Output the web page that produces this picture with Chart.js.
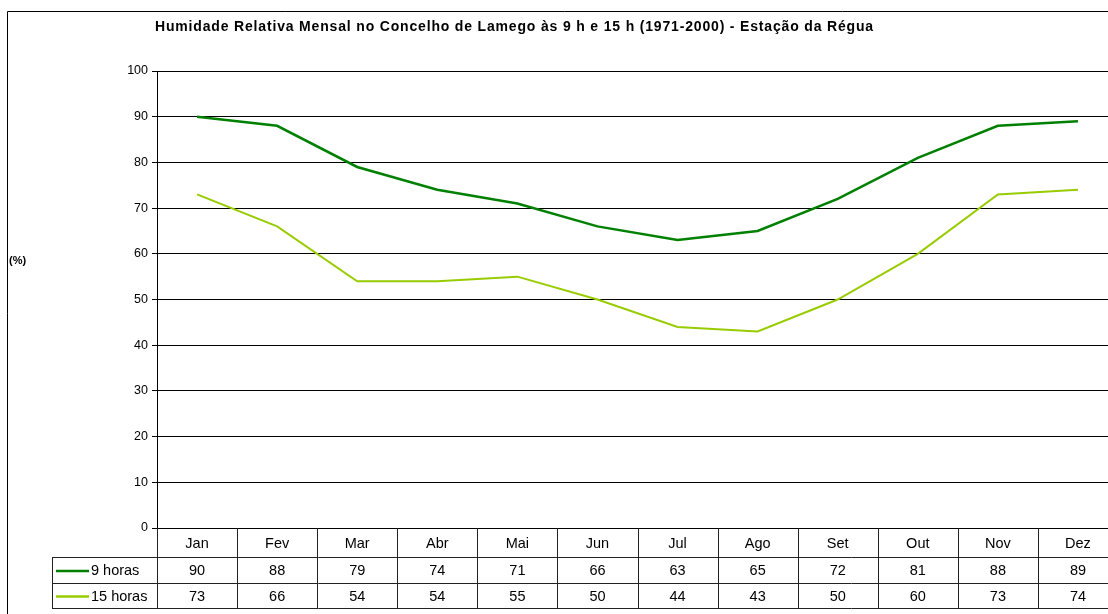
<!DOCTYPE html>
<html><head><meta charset="utf-8">
<script src="https://cdn.jsdelivr.net/npm/chart.js@4.4.0/dist/chart.umd.min.js"></script>
<style>
html,body{margin:0;padding:0;overflow:hidden;background:#fff;}
#wrap{position:relative;width:1120px;height:614px;}
</style></head>
<body><div id="wrap"><canvas id="c" width="1120" height="614"></canvas></div>
<script>
const months = ["Jan","Fev","Mar","Abr","Mai","Jun","Jul","Ago","Set","Out","Nov","Dez"];
const seriesNames = ["9 horas","15 horas"];
const hum9 = [90,88,79,74,71,66,63,65,72,81,88,89];
const hum15 = [73,66,54,54,55,50,44,43,50,60,73,74];
const yTicks = [0,10,20,30,40,50,60,70,80,90,100];
const titleText = "Humidade Relativa Mensal no Concelho de Lamego às 9 h e 15 h (1971-2000) - Estação da Régua";
const yTitle = "(%)";
const colors = ["#008000","#99CC00"];
const allSeries = [hum9, hum15];

const FONT = "'Liberation Sans', Arial, sans-serif";

const tablePlugin = {
  id: 'tablePlugin',
  beforeDraw(chart){
    const ctx = chart.ctx;
    ctx.save();
    ctx.fillStyle = '#fff';
    ctx.fillRect(0,0,chart.width,chart.height);
    ctx.strokeStyle = '#000';
    ctx.lineWidth = 1;
    ctx.beginPath();
    ctx.moveTo(7.5, chart.height+2);
    ctx.lineTo(7.5, 11.5);
    ctx.lineTo(chart.width+2, 11.5);
    ctx.stroke();
    ctx.fillStyle = '#000';
    ctx.font = "bold 14px " + FONT;
    ctx.textAlign = 'left';
    ctx.textBaseline = 'middle';
    ctx.letterSpacing = '0px';
    const w0 = ctx.measureText(titleText).width;
    const targetW = 718;
    const sp = (targetW - w0) / (titleText.length - 1);
    ctx.letterSpacing = sp.toFixed(2) + 'px';
    ctx.fillText(titleText, 514 - targetW / 2, 27);
    ctx.letterSpacing = '0px';
    ctx.font = "bold 11px " + FONT;
    ctx.textAlign = 'left';
    ctx.fillText(yTitle, 9, 261);
    ctx.restore();
  },
  afterDraw(chart){
    const ctx = chart.ctx;
    const xs = chart.scales.x;
    const area = chart.chartArea;
    const top = Math.round(area.bottom);
    const r1 = 557, r2 = 583, r3 = 608;
    const leftT = 52;
    const n = months.length;
    const half = (xs.getPixelForValue(1) - xs.getPixelForValue(0)) / 2;
    ctx.save();
    ctx.strokeStyle = '#222';
    ctx.lineWidth = 1;
    ctx.beginPath();
    for (let i = 0; i <= n; i++) {
      const x = Math.round(xs.getPixelForValue(i) - half) + 0.5;
      ctx.moveTo(x, top); ctx.lineTo(x, r3);
    }
    ctx.moveTo(leftT + 0.5, r1); ctx.lineTo(leftT + 0.5, r3);
    const right = Math.round(xs.getPixelForValue(n-1) + half);
    [r1, r2, r3].forEach(y => { ctx.moveTo(leftT, y + 0.5); ctx.lineTo(right, y + 0.5); });
    ctx.stroke();
    ctx.fillStyle = '#000';
    ctx.font = "14.5px " + FONT;
    ctx.textAlign = 'center';
    ctx.textBaseline = 'middle';
    months.forEach((m, i) => ctx.fillText(m, xs.getPixelForValue(i), (top + r1) / 2 + 1));
    const rows = [[r1, r2], [r2, r3]];
    allSeries.forEach((vals, s) => {
      const cy = (rows[s][0] + rows[s][1]) / 2 + 1;
      vals.forEach((v, i) => ctx.fillText(String(v), xs.getPixelForValue(i), cy));
      ctx.strokeStyle = colors[s];
      ctx.lineWidth = 2.5;
      ctx.beginPath();
      ctx.moveTo(56, cy); ctx.lineTo(89, cy);
      ctx.stroke();
      ctx.textAlign = 'left';
      ctx.fillText(seriesNames[s], 91, cy);
      ctx.textAlign = 'center';
    });
    ctx.restore();
  }
};

new Chart(document.getElementById('c'), {
  type: 'line',
  data: {
    labels: months,
    datasets: [
      { label: seriesNames[0], data: hum9, borderColor: colors[0], borderWidth: 2.5, pointRadius: 0, tension: 0, fill: false },
      { label: seriesNames[1], data: hum15, borderColor: colors[1], borderWidth: 2, pointRadius: 0, tension: 0, fill: false }
    ]
  },
  options: {
    responsive: false,
    animation: false,
    events: [],
    layout: { padding: { left: 97, top: 71, right: 2, bottom: 86 } },
    plugins: { legend: { display: false }, title: { display: false }, tooltip: { enabled: false } },
    scales: {
      x: { type: 'category', offset: true, display: false },
      y: {
        min: 0, max: 100,
        afterFit(scale){ scale.width = 60; },
        afterBuildTicks(scale){ scale.ticks = yTicks.map(v => ({ value: v })); },
        ticks: { color: '#000', font: { family: FONT, size: 12.5 }, padding: 4 },
        grid: { color: '#000', lineWidth: 1, tickLength: 5, drawTicks: true },
        border: { display: true, color: '#000', width: 1 }
      }
    }
  },
  plugins: [tablePlugin]
});
</script></body></html>
